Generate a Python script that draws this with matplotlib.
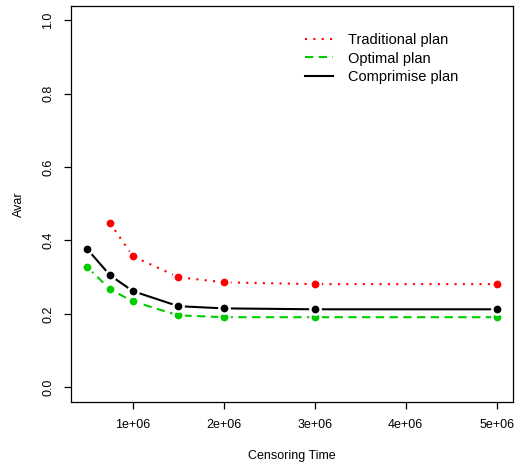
import matplotlib
matplotlib.use("Agg")
import matplotlib.pyplot as plt

plt.rcParams['font.family'] = ['Liberation Sans', 'DejaVu Sans']

# Censoring times and asymptotic variance for the three test plans
censor_time = [0.5e6, 0.75e6, 1.0e6, 1.5e6, 2.0e6, 3.0e6, 5.0e6]
traditional = [None, 0.447, 0.357, 0.300, 0.286, 0.281, 0.281]
optimal = [0.327, 0.267, 0.234, 0.196, 0.191, 0.191, 0.191]
compromise = [0.376, 0.305, 0.262, 0.221, 0.215, 0.2125, 0.2125]

x_ticks = [1e6, 2e6, 3e6, 4e6, 5e6]
x_tick_labels = ["1e+06", "2e+06", "3e+06", "4e+06", "5e+06"]
y_ticks = [0.0, 0.2, 0.4, 0.6, 0.8, 1.0]
y_tick_labels = ["0.0", "0.2", "0.4", "0.6", "0.8", "1.0"]

fig = plt.figure(figsize=(5.2, 4.7), dpi=100)
ax = fig.add_axes([71 / 520, 1 - 402 / 470, (513 - 71) / 520, (402 - 5.5) / 470])


def pairs(xs, ys):
    pts = [(x, y) for x, y in zip(xs, ys) if y is not None]
    return [p[0] for p in pts], [p[1] for p in pts]


common = dict(marker='o', markersize=7.4, markeredgecolor='white',
              markeredgewidth=1.8, linewidth=1.5)

tx, ty = pairs(censor_time, traditional)
ax.plot(tx, ty, color='#FF0000', dashes=(1, 3), markerfacecolor='#FF0000',
        label='Traditional plan', **common)
ox, oy = pairs(censor_time, optimal)
ax.plot(ox, oy, color='#00CD00', dashes=(4, 2.6), markerfacecolor='#00CD00',
        label='Optimal plan', **common)
cx, cy = pairs(censor_time, compromise)
ax.plot(cx, cy, color='black', markerfacecolor='black',
        label='Comprimise plan', **common)

xmin, xmax = min(censor_time), max(censor_time)
pad = 0.04 * (xmax - xmin)
ax.set_xlim(xmin - pad, xmax + pad)
ax.set_ylim(-0.04, 1.04)

ax.set_xticks(x_ticks)
ax.set_xticklabels(x_tick_labels)
ax.set_yticks(y_ticks)
ax.set_yticklabels(y_tick_labels, rotation=90, va='center')

ax.tick_params(axis='both', direction='out', length=5.2, width=0.9,
               labelsize=9, color='black')
ax.tick_params(axis='x', pad=7)
ax.tick_params(axis='y', pad=7)

for s in ax.spines.values():
    s.set_linewidth(0.9)
    s.set_color('black')

ax.set_xlabel('Censoring Time', fontsize=9, labelpad=14)
ax.set_ylabel('Avar', fontsize=9, labelpad=12)

leg = ax.legend(loc='upper left', bbox_to_anchor=(0.516, 0.945), frameon=False,
                fontsize=10.5, handlelength=1.9, handletextpad=1.05,
                labelspacing=0.3, borderaxespad=0)
for h in leg.legend_handles:
    h.set_marker('')

fig.savefig('out.png', dpi=100)
